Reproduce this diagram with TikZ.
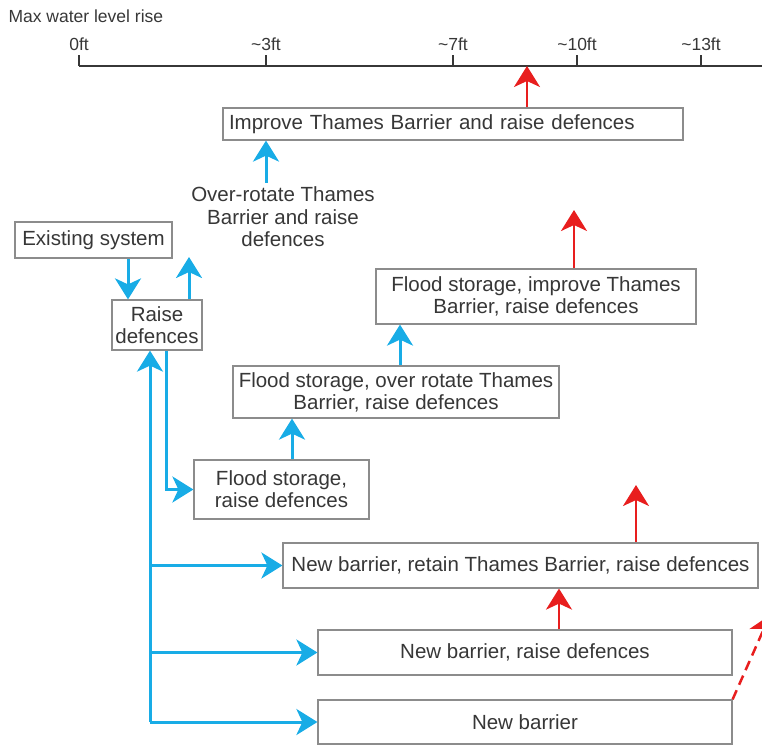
\documentclass[tikz,border=0pt]{standalone}
\usepackage{fontspec}
\setmainfont{Liberation Sans}
\usepackage{tikz}
\usetikzlibrary{arrows.meta}
\definecolor{flowblue}{RGB}{24,172,230}
\definecolor{flowred}{RGB}{232,30,30}
\definecolor{boxgray}{RGB}{140,140,140}
\definecolor{textgray}{RGB}{55,55,55}
\tikzset{
  optbox/.style={draw=boxgray, line width=1.2pt, fill=white, text=textgray,
    inner sep=0pt, align=center, font=\fontsize{20.5}{22}\selectfont},
  bluearr/.style={draw=flowblue, line width=3pt,
    -{Stealth[length=21pt,width=26pt,inset=6pt]}},
  redarr/.style={draw=flowred, line width=2.5pt,
    -{Stealth[length=21pt,width=26pt,inset=6pt]}},
}

\begin{document}
\begin{tikzpicture}[x=1pt, y=-1pt]
  \useasboundingbox (0,0) rectangle (762,746);

  % Draw the water level axis
  \node[anchor=west, text=textgray, font=\fontsize{17.5}{19}\selectfont] (title) at (5,16) {Max water level rise};
  \coordinate (axis0) at (79,66);
  \draw[line width=2.2pt, textgray] (axis0) -- (762,66);
  \foreach \x/\lab in {79/0ft, 266/\textasciitilde3ft, 453/\textasciitilde7ft, 577/\textasciitilde10ft, 701/\textasciitilde13ft}
    \draw[line width=2.2pt, textgray] (\x,66) -- (\x,55)
      node[above, inner sep=3pt, text=textgray, font=\fontsize{17.5}{19}\selectfont] (tick\x) {\lab};

  % Options
  \node[optbox, minimum width=460pt, minimum height=32pt, text width=448pt, inner xsep=6pt, align=left] (improve) at (453,124) {Improve Thames Barrier and raise defences};
  \node[text=textgray, align=center, inner sep=4pt, font=\fontsize{20.5}{22.5}\selectfont] (overtext) at (283,217) {Over-rotate Thames\\Barrier and raise\\defences};
  \node[optbox, minimum width=157pt, minimum height=36pt] (existing) at (93.5,240) {Existing system};
  \node[optbox, minimum width=90pt, minimum height=50pt] (raise) at (157,325) {Raise\\defences};
  \node[optbox, minimum width=320pt, minimum height=55pt] (fsimprove) at (536,296.5) {Flood storage, improve Thames\\Barrier, raise defences};
  \node[optbox, minimum width=326pt, minimum height=52pt] (fsover) at (396,392) {Flood storage, over rotate Thames\\Barrier, raise defences};
  \node[optbox, minimum width=175pt, minimum height=59pt] (fsraise) at (281.5,489.5) {Flood storage,\\raise defences};
  \node[optbox, minimum width=475pt, minimum height=45pt] (nbretain) at (520.5,565.5) {New barrier, retain Thames Barrier, raise defences};
  \node[optbox, minimum width=414pt, minimum height=45pt] (nbraise) at (525,652.5) {New barrier, raise defences};
  \node[optbox, minimum width=414pt, minimum height=44pt] (nb) at (525,722) {New barrier};

  % Free ends
  \coordinate (raiseup) at (189,257);
  \coordinate (trunk) at (150,722);
  \coordinate (fsup) at (574,210);
  \coordinate (retainup) at (636,485);
  \coordinate (nbup) at (770,615);

  % Blue paths
  \draw[bluearr] ([xshift=-17pt]overtext.north) -- ([xshift=-17pt]overtext.north |- improve.south);
  \draw[bluearr] ([xshift=34.5pt]existing.south) -- ([xshift=34.5pt]existing.south |- raise.north);
  \draw[bluearr] ([xshift=32pt]raise.north) -- (raiseup);
  \draw[bluearr] (trunk) -- (trunk |- raise.south);
  \draw[bluearr] ([xshift=9pt]raise.south) |- (fsraise.west);
  \draw[bluearr] (trunk |- nbretain.west) -- (nbretain.west);
  \draw[bluearr] (trunk |- nbraise.west) -- (nbraise.west);
  \draw[bluearr] (trunk) -- (nb.west);
  \draw[bluearr] ([xshift=10.5pt]fsraise.north) -- ([xshift=10.5pt]fsraise.north |- fsover.south);
  \draw[bluearr] ([xshift=4pt]fsover.north) -- ([xshift=4pt]fsover.north |- fsimprove.south);

  % Red paths
  \draw[redarr] ([xshift=74pt]improve.north) -- ([xshift=74pt]improve.north |- axis0);
  \draw[redarr] ([xshift=38pt]fsimprove.north) -- (fsup);
  \draw[redarr] ([xshift=115.5pt]nbretain.north) -- (retainup);
  \draw[redarr] ([xshift=34pt]nbraise.north) -- ([xshift=34pt]nbraise.north |- nbretain.south);
  \draw[redarr, dash pattern=on 10pt off 6pt] (nb.north east) -- (nbup);
\end{tikzpicture}
\end{document}
